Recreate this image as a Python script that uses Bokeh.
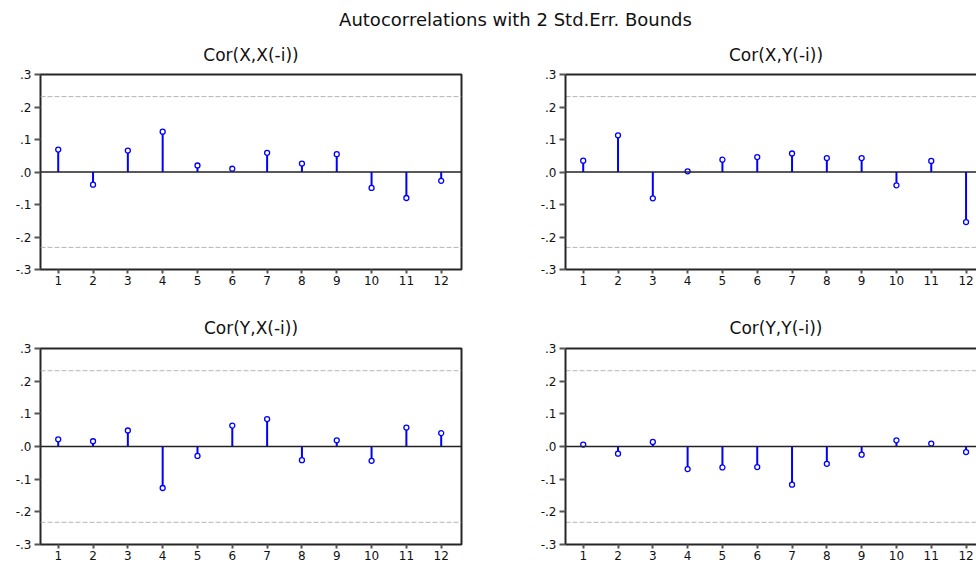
from bokeh.plotting import figure
from bokeh.models import Range1d, FixedTicker, Span, Label, LinearAxis
from bokeh.layouts import column, row
from bokeh.embed import file_html
from bokeh.resources import INLINE

# ---- data ----
lags = [1, 2, 3, 4, 5, 6, 7, 8, 9, 10, 11, 12]
cor_xx = [0.069, -0.039, 0.066, 0.124, 0.020, 0.010, 0.059, 0.026, 0.055, -0.049, -0.080, -0.027]
cor_xy = [0.035, 0.113, -0.081, 0.002, 0.038, 0.046, 0.057, 0.043, 0.043, -0.041, 0.034, -0.154]
cor_yx = [0.022, 0.016, 0.049, -0.127, -0.029, 0.064, 0.084, -0.042, 0.019, -0.044, 0.058, 0.041]
cor_yy = [0.006, -0.022, 0.014, -0.069, -0.064, -0.063, -0.117, -0.053, -0.025, 0.019, 0.009, -0.017]
bound = 0.232
y_ticks = [-0.3, -0.2, -0.1, 0.0, 0.1, 0.2, 0.3]
y_tick_labels = ["-.3", "-.2", "-.1", ".0", ".1", ".2", ".3"]
x_tick_labels = ["1", "2", "3", "4", "5", "6", "7", "8", "9", "10", "11", "12"]
panel_titles = ["Cor(X,X(-i))", "Cor(X,Y(-i))", "Cor(Y,X(-i))", "Cor(Y,Y(-i))"]
main_title = "Autocorrelations with 2 Std.Err. Bounds"

FONT = "DejaVu Sans"
BLUE = "#0000ff"
FRAME = "#262626"
TOTAL_W = 976


def strip(height):
    s = figure(width=TOTAL_W, height=height, x_range=Range1d(0, TOTAL_W),
               y_range=Range1d(height, 0), output_backend="svg", toolbar_location=None,
               min_border=0, outline_line_color=None, border_fill_color="white")
    s.axis.visible = False
    s.grid.visible = False
    return s


def add_text(s, x, y, text, size):
    s.add_layout(Label(x=x, y=y, text=text, text_align="center", text_baseline="middle",
                       text_font=FONT, text_font_size=size, text_color="#111111"))


def panel(vals, side, height, top_border, bottom_border):
    if side == "left":
        width, mbl, mbr = 500, 40, 39
        xr = Range1d(0.491, 12.583)
    else:
        width, mbl, mbr = 476, 65, 0
        xr = Range1d(0.491, 12.30)
    p = figure(width=width, height=height, x_range=xr, y_range=Range1d(-0.3, 0.3),
               output_backend="svg", toolbar_location=None,
               min_border_left=mbl, min_border_right=mbr,
               min_border_top=top_border, min_border_bottom=bottom_border,
               background_fill_color="white", border_fill_color="white")
    p.xgrid.visible = False
    p.ygrid.visible = False

    p.yaxis.ticker = FixedTicker(ticks=y_ticks)
    p.yaxis.major_label_overrides = {t: l for t, l in zip(y_ticks, y_tick_labels)}
    p.xaxis.ticker = FixedTicker(ticks=lags)
    p.xaxis.major_label_overrides = {t: l for t, l in zip(lags, x_tick_labels)}
    for ax in (p.xaxis, p.yaxis):
        ax.minor_tick_line_color = None
        ax.major_tick_in = 0
        ax.major_tick_line_color = "#555555"
        ax.major_tick_line_width = 2
        ax.major_label_text_font = FONT
        ax.major_label_text_font_size = "12px"
        ax.major_label_text_color = "#111111"
    p.yaxis.major_tick_out = 6
    p.yaxis.major_label_standoff = 3
    p.xaxis.major_tick_out = 4
    p.xaxis.major_label_standoff = 2

    if side == "left":
        p.outline_line_color = FRAME
        p.outline_line_width = 2
        p.outline_line_alpha = 1
        p.xaxis.axis_line_color = None
        p.yaxis.axis_line_color = None
    else:
        p.outline_line_color = None
        for ax in (p.xaxis, p.yaxis):
            ax.axis_line_color = FRAME
            ax.axis_line_width = 2
        top = LinearAxis(ticker=FixedTicker(ticks=[]), axis_line_color=FRAME, axis_line_width=2,
                         major_tick_line_color=None, minor_tick_line_color=None,
                         major_tick_out=0, major_tick_in=0, major_label_standoff=0,
                         major_label_text_color=None)
        p.add_layout(top, "above")

    for loc in (bound, -bound):
        p.add_layout(Span(location=loc, dimension="width", line_color="#b5b5b5",
                          line_width=1, line_dash="5 2", level="underlay"))
    p.add_layout(Span(location=0, dimension="width", line_color="#222222", line_width=1.6))

    p.segment(x0=lags, y0=0, x1=lags, y1=vals, line_color=BLUE, line_width=2)
    p.scatter(lags, vals, marker="circle", size=5, line_color=BLUE, line_width=1.3,
              fill_color="white")
    return p


# strip with main title and the upper panel titles
s1 = strip(64)
add_text(s1, 515, 18.5, main_title, "18px")
add_text(s1, 250.5, 54, panel_titles[0], "17px")
add_text(s1, 775.5, 54, panel_titles[1], "17px")

p1 = panel(cor_xx, "left", 249, 10, 44)
p2 = panel(cor_xy, "right", 249, 10, 44)

# strip with the lower panel titles
s2 = strip(25)
add_text(s2, 250.5, 14, panel_titles[2], "17px")
add_text(s2, 775.5, 14, panel_titles[3], "17px")

p3 = panel(cor_yx, "left", 225, 10, 19)
p4 = panel(cor_yy, "right", 225, 10, 19)

layout = column(s1, row(p1, p2), s2, row(p3, p4))

with open("out.html", "w") as f:
    f.write(file_html(layout, INLINE))
